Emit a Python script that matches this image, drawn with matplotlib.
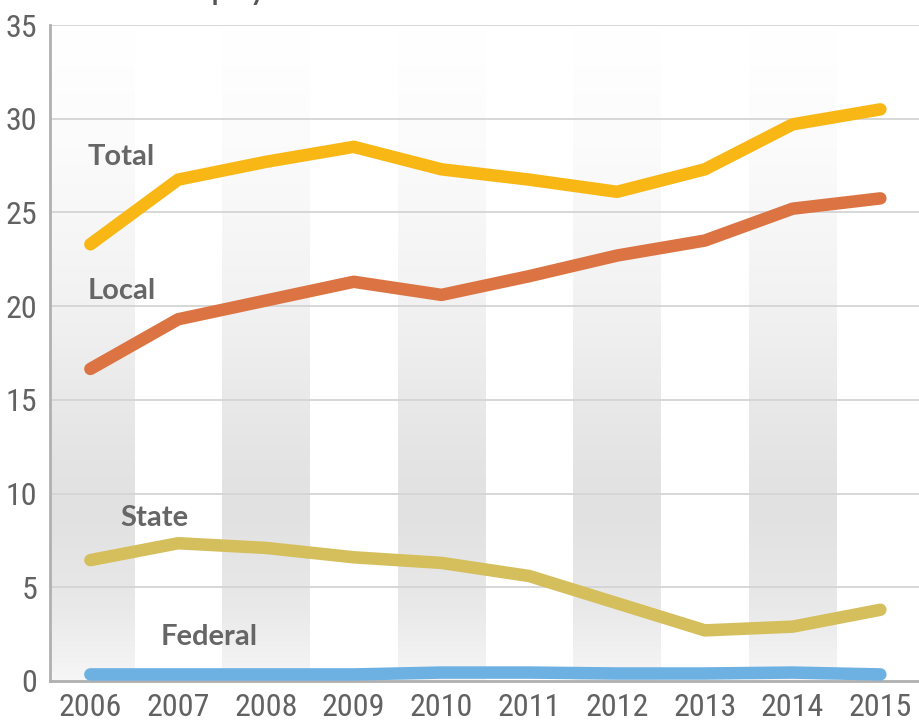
import numpy as np
import matplotlib
matplotlib.use("Agg")
from matplotlib import pyplot as plt
from matplotlib import font_manager

years = [2006, 2007, 2008, 2009, 2010, 2011, 2012, 2013, 2014, 2015]
total = [23.3, 26.75, 27.7, 28.5, 27.3, 26.75, 26.1, 27.3, 29.7, 30.5]
local = [16.65, 19.3, 20.3, 21.3, 20.6, 21.6, 22.7, 23.5, 25.2, 25.75]
state = [6.45, 7.35, 7.1, 6.6, 6.3, 5.6, 4.15, 2.7, 2.9, 3.8]
federal = [0.35, 0.35, 0.35, 0.35, 0.45, 0.45, 0.4, 0.4, 0.45, 0.35]
band_years = [2006, 2008, 2010, 2012, 2014]
y_ticks = [0, 5, 10, 15, 20, 25, 30, 35]

label_font = ["Lato", "DejaVu Sans"]
names = {f.name for f in font_manager.fontManager.ttflist}
prefs = ["Roboto Condensed", "Barlow Semi Condensed", "Asap Condensed", "Archivo Narrow"]
tick_family = next((n for n in prefs if n in names), "DejaVu Sans")

fig = plt.figure(figsize=(9.19, 7.25), dpi=100)
ax = fig.add_axes([0.0544, 0.0607, 0.9456, 0.9048])

# gradient bands: white at top, darkest near 10, lighter again at the baseline
h = 350
v = np.linspace(0, 35, h)
alpha = np.interp(v, [0, 4, 9, 12, 20, 28, 33.5, 35], [0.3, 0.75, 1.0, 0.9, 0.45, 0.15, 0.02, 0.0])
img = np.ones((h, 1, 4))
img[:, 0, :3] = 0.885
img[:, 0, 3] = alpha
for by in band_years:
    ax.imshow(img, extent=(by - 0.5, by + 0.5, 0, 35), origin="lower",
              aspect="auto", zorder=0, interpolation="bilinear")

for y in y_ticks[1:]:
    ax.axhline(y, color="#d4d4d4", lw=1.3, zorder=1)

series = [(total, "#F8B714"), (local, "#DB7442"), (state, "#D5BF5C"), (federal, "#6DB0E2")]
for vals, col in series:
    ax.plot(years, vals, color=col, lw=9, solid_capstyle="round",
            solid_joinstyle="round", zorder=3)

lab = dict(fontsize=21, color="#666666", family=label_font, fontweight="bold",
           va="center", ha="left", zorder=4)
ax.text(2005.97, 27.98, "Total", **lab)
ax.text(2005.97, 20.8, "Local", **lab)
ax.text(2006.34, 8.67, "State", **lab)
ax.text(2006.8, 2.34, "Federal", **lab)

ax.set_xlim(2005.54, 2015.44)
ax.set_ylim(0, 35)
ax.set_xticks(years)
ax.set_yticks(y_ticks)
ax.tick_params(length=0, labelsize=23, labelcolor="#626262", pad=9)
for lb in ax.get_xticklabels() + ax.get_yticklabels():
    lb.set_family([tick_family, "DejaVu Sans"])
    lb.set_fontweight("normal")

for s in ["top", "right"]:
    ax.spines[s].set_visible(False)
ax.spines["left"].set_color("#b0b0b0")
ax.spines["left"].set_linewidth(2)
ax.spines["bottom"].set_color("#b0b0b0")
ax.spines["bottom"].set_linewidth(2)

fig.text(0.036, 1.0, "Number of employees", fontsize=20, color="#555555",
         family=label_font, fontweight="bold", va="baseline", ha="left")

fig.savefig("out.png", dpi=100)
